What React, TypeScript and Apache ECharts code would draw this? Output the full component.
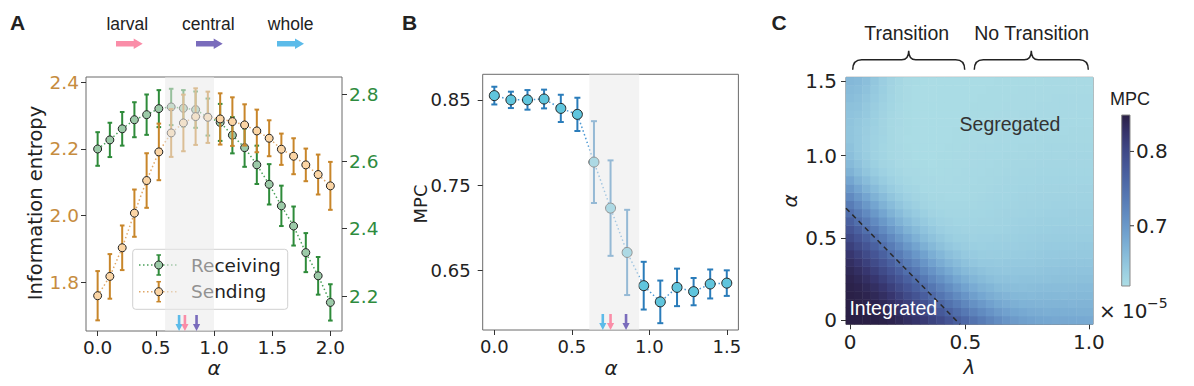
import React, { useEffect, useRef } from 'react';
import * as echarts from 'echarts';

// ---------------- Panel A data ----------------
const alphaA = [0, 0.105, 0.211, 0.316, 0.421, 0.526, 0.632, 0.737, 0.842, 0.947, 1.053, 1.158, 1.263, 1.368, 1.474, 1.579, 1.684, 1.789, 1.895, 2.0];
const receiving = [2.637, 2.664, 2.697, 2.724, 2.739, 2.757, 2.762, 2.758, 2.754, 2.732, 2.716, 2.678, 2.641, 2.590, 2.532, 2.468, 2.408, 2.329, 2.260, 2.181];
const receivingErr = [0.050, 0.051, 0.050, 0.052, 0.060, 0.055, 0.054, 0.054, 0.054, 0.055, 0.055, 0.054, 0.057, 0.057, 0.060, 0.060, 0.058, 0.058, 0.056, 0.054];
const sending = [1.759, 1.817, 1.903, 2.007, 2.105, 2.191, 2.248, 2.278, 2.297, 2.295, 2.290, 2.282, 2.272, 2.254, 2.232, 2.199, 2.178, 2.152, 2.123, 2.089];
const sendingErr = [0.074, 0.067, 0.067, 0.071, 0.082, 0.085, 0.072, 0.085, 0.085, 0.077, 0.077, 0.073, 0.062, 0.064, 0.054, 0.047, 0.054, 0.049, 0.060, 0.072];
const xTicksA = [0, 0.5, 1.0, 1.5, 2.0];
const yTicksSending = [1.8, 2.0, 2.2, 2.4];
const yTicksReceiving = [2.2, 2.4, 2.6, 2.8];
const shadeA = [0.58, 1.0];

// ---------------- Panel B data ----------------
const alphaB = [0, 0.107, 0.214, 0.321, 0.429, 0.536, 0.643, 0.75, 0.857, 0.964, 1.071, 1.179, 1.286, 1.393, 1.5];
const mpc = [0.855, 0.850, 0.850, 0.851, 0.840, 0.833, 0.777, 0.723, 0.671, 0.632, 0.613, 0.630, 0.625, 0.634, 0.635];
const mpcErr = [0.0104, 0.0096, 0.0115, 0.011, 0.016, 0.0195, 0.048, 0.056, 0.05, 0.028, 0.025, 0.022, 0.016, 0.017, 0.015];
const xTicksB = [0, 0.5, 1.0, 1.5];
const yTicksB = [0.65, 0.75, 0.85];
const shadeB = [0.613, 0.935];

// transition points (whole, larval, central)
const transitionAlpha = [0.7, 0.75, 0.85];
const transitionColors = ['#5cbbe9', '#fa8da8', '#7a6cbc'];
const topLegendNames = ['larval', 'central', 'whole'];
const topLegendColors = ['#fa8da8', '#7a6cbc', '#5cbbe9'];

// ---------------- Panel C data ----------------
// MPC (x 10^-5) * 1000, rows = alpha index from bottom (0) to top (29), columns = lambda index 0..29
const mpcScale = 1000;
const mpcGrid = [
  [850, 850, 850, 848, 846, 843, 838, 831, 825, 817, 807, 797, 784, 771, 759, 746, 734, 723, 713, 704, 697, 692, 688, 685, 684, 682, 682, 681, 681, 680],
  [850, 850, 848, 846, 843, 838, 831, 822, 814, 803, 792, 779, 766, 752, 739, 727, 716, 706, 697, 690, 685, 681, 678, 677, 675, 676, 675, 675, 674, 674],
  [850, 848, 846, 843, 838, 831, 822, 811, 800, 789, 775, 761, 747, 734, 721, 709, 699, 690, 683, 678, 674, 671, 670, 669, 669, 669, 669, 668, 669, 669],
  [848, 846, 843, 838, 831, 822, 811, 798, 786, 772, 758, 743, 729, 716, 704, 693, 684, 677, 672, 668, 665, 664, 663, 664, 664, 664, 663, 664, 664, 664],
  [846, 843, 838, 831, 822, 811, 798, 784, 770, 755, 740, 725, 712, 700, 688, 679, 672, 667, 662, 659, 658, 657, 658, 659, 659, 659, 659, 659, 660, 660],
  [843, 838, 831, 822, 811, 798, 784, 768, 753, 738, 722, 709, 696, 684, 675, 667, 662, 657, 654, 654, 652, 653, 654, 654, 654, 655, 655, 655, 656, 656],
  [838, 831, 822, 811, 798, 784, 768, 751, 736, 720, 706, 693, 681, 671, 663, 658, 653, 650, 649, 648, 649, 649, 649, 650, 651, 651, 652, 652, 652, 652],
  [831, 822, 811, 798, 784, 768, 751, 734, 719, 704, 690, 678, 668, 660, 654, 649, 646, 645, 644, 645, 645, 645, 646, 647, 648, 648, 649, 649, 649, 649],
  [822, 811, 798, 784, 768, 751, 734, 717, 702, 689, 676, 666, 657, 651, 646, 643, 641, 640, 641, 641, 642, 642, 643, 644, 645, 645, 646, 646, 646, 646],
  [811, 798, 784, 768, 751, 734, 717, 701, 687, 674, 664, 655, 648, 643, 640, 638, 637, 638, 638, 639, 639, 640, 641, 642, 643, 643, 643, 643, 644, 644],
  [798, 784, 768, 751, 734, 717, 701, 686, 673, 662, 653, 647, 641, 637, 636, 634, 635, 635, 636, 636, 637, 638, 639, 640, 640, 641, 641, 641, 641, 641],
  [784, 768, 751, 734, 717, 701, 686, 672, 661, 652, 645, 639, 635, 634, 632, 632, 633, 633, 633, 634, 635, 636, 637, 638, 638, 639, 639, 639, 639, 639],
  [768, 751, 734, 717, 701, 686, 672, 660, 651, 644, 638, 634, 632, 630, 630, 630, 631, 631, 632, 633, 634, 635, 635, 636, 637, 637, 637, 637, 637, 637],
  [751, 734, 717, 701, 686, 672, 660, 650, 643, 637, 632, 630, 628, 628, 628, 629, 629, 630, 631, 632, 632, 633, 634, 634, 635, 635, 635, 636, 636, 636],
  [734, 717, 701, 686, 672, 660, 650, 642, 636, 631, 629, 627, 627, 627, 627, 627, 628, 629, 630, 630, 631, 632, 632, 633, 633, 634, 634, 634, 634, 634],
  [717, 701, 686, 672, 660, 650, 642, 635, 631, 628, 626, 626, 625, 625, 625, 626, 627, 628, 629, 629, 630, 631, 631, 632, 632, 632, 633, 633, 633, 633],
  [701, 686, 672, 660, 650, 642, 635, 630, 628, 625, 625, 624, 624, 624, 625, 626, 626, 627, 628, 629, 629, 630, 630, 631, 631, 631, 631, 631, 632, 632],
  [686, 672, 660, 650, 642, 635, 630, 627, 625, 624, 624, 623, 623, 624, 624, 625, 626, 626, 627, 628, 628, 629, 629, 630, 630, 630, 630, 630, 630, 630],
  [672, 660, 650, 642, 635, 630, 627, 624, 624, 623, 622, 622, 623, 623, 624, 625, 625, 626, 626, 627, 627, 628, 628, 629, 629, 629, 629, 629, 629, 629],
  [663, 653, 644, 637, 631, 628, 624, 623, 622, 622, 621, 622, 622, 623, 623, 624, 625, 625, 626, 626, 627, 627, 627, 628, 628, 628, 628, 628, 628, 628],
  [657, 648, 641, 634, 630, 626, 624, 623, 621, 621, 621, 622, 622, 623, 623, 624, 624, 625, 625, 626, 626, 626, 627, 627, 627, 627, 627, 628, 628, 628],
  [653, 646, 639, 634, 629, 626, 624, 622, 621, 621, 621, 621, 622, 622, 623, 623, 624, 624, 625, 625, 625, 626, 626, 626, 627, 627, 627, 627, 627, 627],
  [650, 645, 639, 634, 630, 626, 623, 621, 621, 620, 621, 621, 621, 622, 622, 623, 623, 623, 624, 624, 625, 625, 625, 626, 626, 626, 626, 626, 626, 626],
  [650, 646, 640, 635, 631, 626, 623, 622, 621, 620, 621, 621, 621, 622, 622, 622, 623, 623, 624, 624, 624, 625, 625, 625, 625, 625, 625, 626, 626, 626],
  [651, 647, 642, 637, 631, 626, 624, 622, 621, 620, 621, 621, 621, 621, 622, 622, 622, 623, 623, 624, 624, 624, 624, 625, 625, 625, 625, 625, 625, 625],
  [652, 650, 645, 638, 632, 627, 624, 622, 621, 620, 621, 621, 621, 621, 621, 622, 622, 622, 623, 623, 623, 624, 624, 624, 624, 624, 624, 624, 625, 625],
  [655, 653, 647, 640, 634, 629, 625, 622, 621, 620, 621, 621, 621, 621, 621, 622, 622, 622, 622, 623, 623, 623, 623, 624, 624, 624, 624, 624, 624, 624],
  [659, 656, 650, 643, 636, 630, 626, 623, 621, 620, 620, 621, 621, 621, 621, 621, 622, 622, 622, 622, 623, 623, 623, 623, 623, 624, 624, 624, 624, 624],
  [662, 659, 653, 646, 638, 631, 626, 623, 621, 620, 620, 621, 621, 621, 621, 621, 621, 622, 622, 622, 622, 623, 623, 623, 623, 623, 623, 623, 623, 623],
  [665, 663, 657, 648, 639, 632, 627, 623, 622, 621, 620, 621, 621, 621, 621, 621, 621, 621, 622, 622, 622, 622, 622, 622, 623, 623, 623, 623, 623, 623],
];
const lambdaTickIdx = [0, 14, 29];
const lambdaTickLabels = ['0', '0.5', '1.0'];
const alphaTickIdx = [0, 10, 20, 29];
const alphaTickLabels = ['0', '0.5', '1.0', '1.5'];
const mpcMin = 0.619;
const mpcMax = 0.849;
const cbTicks = [0.7, 0.8];
const cmap = ['#acdde5', '#98cce0', '#84b8d8', '#72a3cf', '#648fc3', '#587cb6', '#4e6aa8', '#465898', '#3e4785', '#35336a', '#2a1f45'];
// dashed divider in cell-index units: [x0, y0, x1, y1]
const dividerIdx = [-0.5, 13.6, 13.35, -0.5];

// ---------------- shapes ----------------
function braceD(W: number) {
  const m = W / 2;
  const H = 19;
  return `M0,${H} C0,${H - 6} 2,9 9,9 L${m - 7},9 C${m - 2},9 ${m},6 ${m},0 C${m},6 ${m + 2},9 ${m + 7},9 L${W - 9},9 C${W - 2},9 ${W},${H - 6} ${W},${H}`;
}
echarts.graphic.registerShape('braceT', echarts.graphic.extendPath(braceD(112), {}) as any);
echarts.graphic.registerShape('braceN', echarts.graphic.extendPath(braceD(114), {}) as any);

const TICK_FONT = 'DejaVu Sans';
const SANS = 'Liberation Sans';

function errorBars(xs: number[], ys: number[], errs: number[], xi: number, yi: number, color: string, cap: number, lw: number, z: number) {
  return {
    type: 'custom', xAxisIndex: xi, yAxisIndex: yi, z, silent: true,
    data: xs.map((x, i) => [x, ys[i] - errs[i], ys[i] + errs[i]]),
    encode: { x: 0, y: [1, 2] },
    renderItem: (params: any, api: any) => {
      const x = api.value(0);
      const lo = api.coord([x, api.value(1)]);
      const hi = api.coord([x, api.value(2)]);
      const style = { stroke: color, lineWidth: lw };
      return {
        type: 'group', children: [
          { type: 'line', shape: { x1: lo[0], y1: lo[1], x2: hi[0], y2: hi[1] }, style },
          { type: 'line', shape: { x1: hi[0] - cap, y1: hi[1], x2: hi[0] + cap, y2: hi[1] }, style },
          { type: 'line', shape: { x1: lo[0] - cap, y1: lo[1], x2: lo[0] + cap, y2: lo[1] }, style },
        ],
      };
    },
  };
}

function shade(range: number[], xi: number, yi: number) {
  return {
    type: 'custom', xAxisIndex: xi, yAxisIndex: yi, z: 10, silent: true,
    data: [range],
    renderItem: (params: any, api: any) => {
      const cs = params.coordSys;
      const x0 = api.coord([api.value(0), api.value(1)])[0];
      const x1 = api.coord([api.value(1), api.value(1)])[0];
      return { type: 'rect', shape: { x: x0, y: cs.y, width: x1 - x0, height: cs.height }, style: { fill: 'rgba(234,234,234,0.56)' } };
    },
  };
}

function arrows(xi: number, yi: number) {
  return {
    type: 'custom', xAxisIndex: xi, yAxisIndex: yi, z: 12, silent: true,
    data: transitionAlpha.map((a, i) => [a, i]),
    renderItem: (params: any, api: any) => {
      const cs = params.coordSys;
      const cx = api.coord([api.value(0), 0])[0];
      const tip = cs.y + cs.height;
      const L = 16, hl = 7, hw = 3.6, sw = 1.3;
      return {
        type: 'polygon',
        shape: { points: [[cx - sw, tip - L], [cx + sw, tip - L], [cx + sw, tip - hl], [cx + hw, tip - hl], [cx, tip], [cx - hw, tip - hl], [cx - sw, tip - hl]] },
        style: { fill: transitionColors[params.dataIndex] },
      };
    },
  };
}

function valueAxisCommon(ticks: number[], digits: number, color: string, fontSize: number, margin: number) {
  return {
    type: 'value',
    axisLine: { show: false, onZero: false },
    splitLine: { show: false },
    axisTick: { show: true, customValues: ticks, length: 5, lineStyle: { color: '#333', width: 1 } },
    axisLabel: { customValues: ticks, formatter: (v: number) => v.toFixed(digits), color, fontSize, fontFamily: TICK_FONT, margin },
  };
}

function text(t: string, x: number, y: number, fontSize: number, extra: any = {}) {
  return {
    type: 'text', x, y, z: 30,
    style: { text: t, fontSize, fontFamily: SANS, fill: '#222', align: 'center', verticalAlign: 'middle', ...(extra.style || {}) },
    ...(extra.el || {}),
  };
}

function rightArrow(x0: number, x1: number, cy: number, color: string) {
  return {
    type: 'polygon', z: 30,
    shape: { points: [[x0, cy - 2.8], [x1 - 9, cy - 2.8], [x1 - 9, cy - 5.2], [x1, cy], [x1 - 9, cy + 5.2], [x1 - 9, cy + 2.8], [x0, cy + 2.8]] },
    style: { fill: color },
  };
}

function legendEntry(y: number, line: string, bar: string, fill: string, label: string) {
  const mx = 158.7;
  return [
    { type: 'line', z: 7, shape: { x1: 139, y1: y, x2: 178, y2: y }, style: { stroke: line, lineWidth: 1.5, lineDash: [1.5, 2.5] } },
    { type: 'line', z: 7, shape: { x1: mx, y1: y - 10, x2: mx, y2: y + 10 }, style: { stroke: bar, lineWidth: 2 } },
    { type: 'line', z: 7, shape: { x1: mx - 2.3, y1: y - 10, x2: mx + 2.3, y2: y - 10 }, style: { stroke: bar, lineWidth: 1.5 } },
    { type: 'line', z: 7, shape: { x1: mx - 2.3, y1: y + 10, x2: mx + 2.3, y2: y + 10 }, style: { stroke: bar, lineWidth: 1.5 } },
    { type: 'circle', z: 8, shape: { cx: mx, cy: y, r: 4 }, style: { fill, stroke: '#222', lineWidth: 1 } },
    { type: 'text', z: 8, x: 191, y, style: { text: label, fontSize: 18.5, fontFamily: TICK_FONT, fill: '#222', align: 'left', verticalAlign: 'middle' } },
  ];
}

export default function App() {
  const ref = useRef<HTMLDivElement>(null);
  useEffect(() => {
    document.body.style.margin = '0';
    if (!ref.current) return;
    const chart = echarts.init(ref.current, null, { renderer: 'svg' });

    const heatData: number[][] = [];
    mpcGrid.forEach((row, j) => row.forEach((v, i) => heatData.push([i, j, v / mpcScale])));
    const cats = mpcGrid[0].map((_, i) => String(i));
    const cbTop = 115, cbH = 171, cbX = 1121.7, cbW = 8.3;
    const cbY = (v: number) => cbTop + cbH * (1 - (v - mpcMin) / (mpcMax - mpcMin));

    const option: any = {
      animation: false,
      grid: [
        { left: 86, top: 77, width: 256, height: 254, show: true, borderColor: '#6b6b6b', borderWidth: 1, backgroundColor: 'transparent' },
        { left: 482.7, top: 74.3, width: 255.7, height: 255.7, show: true, borderColor: '#6b6b6b', borderWidth: 1, backgroundColor: 'transparent' },
        { left: 846, top: 77.3, width: 247, height: 247, show: true, borderColor: '#6b6b6b', borderWidth: 1, backgroundColor: 'transparent' },
      ],
      xAxis: [
        { gridIndex: 0, min: -0.1, max: 2.1, ...valueAxisCommon(xTicksA, 1, '#222', 18.5, 7) },
        { gridIndex: 1, min: -0.075, max: 1.575, ...valueAxisCommon(xTicksB, 1, '#222', 18, 7) },
        {
          gridIndex: 2, type: 'category', data: cats,
          axisLine: { show: false, onZero: false }, splitLine: { show: false },
          axisTick: { show: true, alignWithLabel: true, length: 5, interval: (i: number) => lambdaTickIdx.includes(i), lineStyle: { color: '#333' } },
          axisLabel: { interval: (i: number) => lambdaTickIdx.includes(i), formatter: (_v: string, i: number) => lambdaTickLabels[lambdaTickIdx.indexOf(i)] ?? '', color: '#222', fontSize: 20, fontFamily: TICK_FONT, margin: 8 },
        },
      ],
      yAxis: [
        { gridIndex: 0, position: 'left', min: 1.653, max: 2.416, ...valueAxisCommon(yTicksSending, 1, '#c68c3e', 18.5, 7) },
        { gridIndex: 0, position: 'right', min: 2.096, max: 2.851, ...valueAxisCommon(yTicksReceiving, 1, '#2e8b3e', 18.5, 7) },
        { gridIndex: 1, min: 0.58, max: 0.88, ...valueAxisCommon(yTicksB, 2, '#222', 18, 12) },
        {
          gridIndex: 2, type: 'category', data: cats,
          axisLine: { show: false, onZero: false }, splitLine: { show: false },
          axisTick: { show: true, alignWithLabel: true, length: 5, interval: (i: number) => alphaTickIdx.includes(i), lineStyle: { color: '#333' } },
          axisLabel: { interval: (i: number) => alphaTickIdx.includes(i), formatter: (_v: string, i: number) => alphaTickLabels[alphaTickIdx.indexOf(i)] ?? '', color: '#222', fontSize: 20, fontFamily: TICK_FONT, margin: 9 },
        },
      ],
      visualMap: {
        show: false, type: 'continuous', min: mpcMin, max: mpcMax, dimension: 2, seriesIndex: 10,
        inRange: { color: cmap },
      },
      series: [
        // 0-1: receiving
        errorBars(alphaA, receiving, receivingErr, 0, 1, '#2e8b3a', 2.3, 2, 2),
        {
          type: 'line', xAxisIndex: 0, yAxisIndex: 1, z: 3, name: 'Receiving',
          data: alphaA.map((x, i) => [x, receiving[i]]),
          symbol: 'circle', symbolSize: 8, showSymbol: true, showAllSymbol: true,
          lineStyle: { color: '#4aa05a', width: 1.5, type: [1.5, 2.5] },
          itemStyle: { color: '#9ccaa8', borderColor: '#222', borderWidth: 1 },
        },
        // 2-3: sending
        errorBars(alphaA, sending, sendingErr, 0, 0, '#c8862a', 2.3, 2, 4),
        {
          type: 'line', xAxisIndex: 0, yAxisIndex: 0, z: 5, name: 'Sending',
          data: alphaA.map((x, i) => [x, sending[i]]),
          symbol: 'circle', symbolSize: 8, showSymbol: true, showAllSymbol: true,
          lineStyle: { color: '#e0a868', width: 1.5, type: [1.5, 2.5] },
          itemStyle: { color: '#fbd5a5', borderColor: '#222', borderWidth: 1 },
        },
        // 4-5: A overlay + arrows
        shade(shadeA, 0, 0),
        arrows(0, 0),
        // 6-7: B
        errorBars(alphaB, mpc, mpcErr, 1, 2, '#2a7cba', 3, 2, 2),
        {
          type: 'line', xAxisIndex: 1, yAxisIndex: 2, z: 3, name: 'MPC',
          data: alphaB.map((x, i) => [x, mpc[i]]),
          symbol: 'circle', symbolSize: 10, showSymbol: true, showAllSymbol: true,
          lineStyle: { color: '#4a98d4', width: 1.5, type: [1.5, 2.5] },
          itemStyle: { color: '#60c5dd', borderColor: '#222', borderWidth: 1 },
        },
        // 8-9: B overlay + arrows
        shade(shadeB, 1, 2),
        arrows(1, 2),
        // 10: heatmap
        {
          type: 'heatmap', xAxisIndex: 2, yAxisIndex: 3, z: 2, data: heatData,
          itemStyle: { borderWidth: 0 },
        },
        // 11: divider
        {
          type: 'custom', xAxisIndex: 2, yAxisIndex: 3, z: 5, silent: true,
          data: [dividerIdx],
          renderItem: (params: any, api: any) => {
            const o = api.coord([0, 0]);
            const u = api.coord([1, 1]);
            const dx = u[0] - o[0], dy = u[1] - o[1];
            const P = (a: number, b: number) => [o[0] + a * dx, o[1] + b * dy];
            const p0 = P(api.value(0), api.value(1));
            const p1 = P(api.value(2), api.value(3));
            return { type: 'line', shape: { x1: p0[0], y1: p0[1], x2: p1[0], y2: p1[1] }, style: { stroke: '#2a2a2a', lineWidth: 1.5, lineDash: [5, 4] } };
          },
        },
      ],
      graphic: {
        elements: [
          // panel letters
          text('A', 17.5, 22.5, 21, { style: { fontWeight: 'bold' } }),
          text('B', 409.5, 22, 21, { style: { fontWeight: 'bold' } }),
          text('C', 779, 22, 21, { style: { fontWeight: 'bold' } }),
          // top legend of transition arrows
          text(topLegendNames[0], 127.3, 24, 17.5),
          text(topLegendNames[1], 208.3, 24, 17.5),
          text(topLegendNames[2], 290.7, 24, 17.5),
          rightArrow(116, 142.7, 43.7, topLegendColors[0]),
          rightArrow(196, 222.7, 43.7, topLegendColors[1]),
          rightArrow(277, 304, 43.7, topLegendColors[2]),
          // legend box A
          { type: 'rect', z: 6, shape: { x: 132.7, y: 249.3, width: 155, height: 60, r: 3 }, style: { fill: 'rgba(255,255,255,0.8)', stroke: '#d0d0d0', lineWidth: 1 } },
          ...legendEntry(265, '#4aa05a', '#2e8b3a', '#9ccaa8', 'Receiving'),
          ...legendEntry(291.7, '#e0a868', '#c8862a', '#fbd5a5', 'Sending'),
          // axis titles
          text('Information entropy', 35, 203, 19.5, { style: { fontFamily: TICK_FONT }, el: { rotation: Math.PI / 2 } }),
          text('α', 214, 368, 20, { style: { fontFamily: TICK_FONT, fontStyle: 'italic' } }),
          text('MPC', 420, 204, 18, { style: { fontFamily: TICK_FONT }, el: { rotation: Math.PI / 2 } }),
          text('α', 611, 368, 20, { style: { fontFamily: TICK_FONT, fontStyle: 'italic' } }),
          text('λ', 969.3, 366.5, 20, { style: { fontFamily: TICK_FONT, fontStyle: 'italic' } }),
          text('α', 790, 200.8, 20, { style: { fontFamily: TICK_FONT, fontStyle: 'italic' }, el: { rotation: Math.PI / 2 } }),
          // braces
          text('Transition', 906.7, 33.3, 19.5),
          text('No Transition', 1031.7, 33.3, 19.5),
          { type: 'braceT', z: 30, x: 852.7, y: 50.7, style: { stroke: '#222', lineWidth: 1.5, fill: 'none' } },
          { type: 'braceN', z: 30, x: 974.3, y: 50.7, style: { stroke: '#222', lineWidth: 1.5, fill: 'none' } },
          // region labels
          text('Segregated', 1010, 124, 19.5, { style: { fill: '#333' } }),
          text('Integrated', 893.3, 308.3, 19.5, { style: { fill: '#ffffff' } }),
          // colorbar
          {
            type: 'rect', z: 30, shape: { x: cbX, y: cbTop, width: cbW, height: cbH },
            style: {
              fill: new echarts.graphic.LinearGradient(0, 1, 0, 0, cmap.map((c, k) => ({ offset: k / (cmap.length - 1), color: c }))),
              stroke: '#888', lineWidth: 1,
            },
          },
          ...cbTicks.flatMap((v) => [
            { type: 'line', z: 30, shape: { x1: cbX + cbW, y1: cbY(v), x2: cbX + cbW + 4, y2: cbY(v) }, style: { stroke: '#333', lineWidth: 1 } },
            { type: 'text', z: 30, x: cbX + cbW + 6, y: cbY(v), style: { text: v.toFixed(1), fontSize: 20, fontFamily: TICK_FONT, fill: '#222', align: 'left', verticalAlign: 'middle' } },
          ]),
          text('MPC', 1130, 99, 18),
          { type: 'text', z: 30, x: 1099, y: 310.5, style: { text: '× 10', fontSize: 20, fontFamily: TICK_FONT, fill: '#222', align: 'left', verticalAlign: 'middle' } },
          { type: 'text', z: 30, x: 1147, y: 302.5, style: { text: '−5', fontSize: 14, fontFamily: TICK_FONT, fill: '#222', align: 'left', verticalAlign: 'middle' } },
        ],
      },
    };
    chart.setOption(option);
    return () => chart.dispose();
  }, []);
  return <div ref={ref} style={{ width: 1194, height: 386 }} />;
}
